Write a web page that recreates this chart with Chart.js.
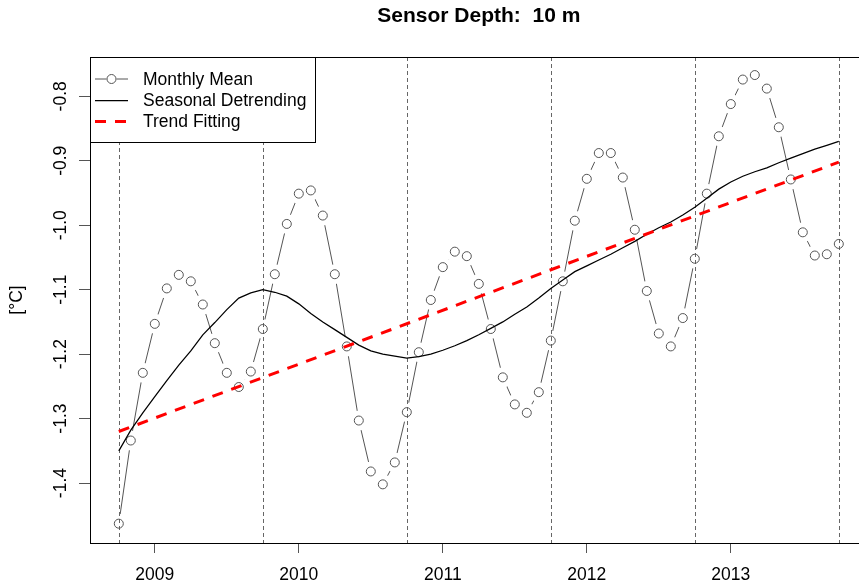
<!DOCTYPE html>
<html>
<head>
<meta charset="utf-8">
<script src="https://cdn.jsdelivr.net/npm/chart.js@4/dist/chart.umd.min.js"></script>
<style>
	html, body { margin: 0; padding: 0; background: #fff; overflow: hidden; }
	#wrap { width: 880px; height: 585px; }
</style>
</head>
<body>
<div id="wrap"><canvas id="chart" width="880" height="585"></canvas></div>
<script>
// Sensor at 10 m — monthly temperature, Oct 2008 .. Oct 2013
const startYear = 2008;
const startMonth = 10;
const monthlyMean = [
	-1.463, -1.334, -1.229,
	-1.153, -1.098, -1.077, -1.087, -1.123, -1.183, -1.229, -1.251, -1.227, -1.161, -1.076, -0.998,
	-0.951, -0.946, -0.985, -1.076, -1.188, -1.303, -1.382, -1.402, -1.368, -1.290, -1.197, -1.116,
	-1.065, -1.041, -1.048, -1.091, -1.161, -1.236, -1.278, -1.291, -1.259, -1.179, -1.087, -0.993,
	-0.928, -0.888, -0.888, -0.926, -1.007, -1.102, -1.168, -1.188, -1.144, -1.052, -0.951, -0.862,
	-0.812, -0.774, -0.767, -0.788, -0.848, -0.929, -1.011, -1.047, -1.045, -1.029
];
const seasonalDetrending = [
	-1.350, -1.318, -1.291,
	-1.266, -1.241, -1.217, -1.195, -1.170, -1.151, -1.131, -1.113, -1.105, -1.100, -1.104, -1.110,
	-1.122, -1.137, -1.150, -1.162, -1.174, -1.186, -1.195, -1.200, -1.203, -1.206, -1.204, -1.200,
	-1.194, -1.187, -1.179, -1.170, -1.160, -1.150, -1.138, -1.127, -1.113, -1.098, -1.085, -1.072,
	-1.063, -1.054, -1.045, -1.035, -1.025, -1.014, -1.004, -0.995, -0.984, -0.972, -0.958, -0.944,
	-0.933, -0.924, -0.917, -0.911, -0.903, -0.896, -0.889, -0.882, -0.876, -0.870
];
// linear trend, value at first and last month
const trendFitting = [-1.320, -0.902];
const yearTicks = [2009, 2010, 2011, 2012, 2013];
const tempTicks = [-1.4, -1.3, -1.2, -1.1, -1.0, -0.9, -0.8];
const octoberMarks = [2008.75, 2009.75, 2010.75, 2011.75, 2012.75, 2013.75];
const legendLabels = ['Monthly Mean', 'Seasonal Detrending', 'Trend Fitting'];

const FONT = '"Liberation Sans", Arial, Helvetica, sans-serif';
const monthX = i => startYear + (startMonth - 1 + i) / 12;
const meanPts = monthlyMean.map((v, i) => ({ x: monthX(i), y: v }));
const detrPts = seasonalDetrending.map((v, i) => ({ x: monthX(i), y: v }));
const trendPts = [
	{ x: monthX(0), y: trendFitting[0] },
	{ x: monthX(monthlyMean.length - 1), y: trendFitting[1] }
];

// R-style decorations: box, rotated y labels, title, legend, vertical marks
const rStyle = {
	id: 'rStyle',
	beforeDraw(chart) {
		const c = chart.ctx;
		c.save();
		c.fillStyle = '#fff';
		c.fillRect(0, 0, chart.width, chart.height);
		c.restore();
	},
	afterDatasetDraw(chart, args) {
		if (args.index !== 1) return;
		const { ctx: c, chartArea: a } = chart;
		const xs = chart.scales.x;
		c.save();
		c.strokeStyle = '#666';
		c.lineWidth = 1;
		c.setLineDash([4, 3]);
		octoberMarks.forEach(m => {
			const px = Math.round(xs.getPixelForValue(m)) + 0.5;
			c.beginPath();
			c.moveTo(px, a.top);
			c.lineTo(px, a.bottom);
			c.stroke();
		});
		c.restore();
	},
	afterDraw(chart) {
		const { ctx: c, chartArea: a } = chart;
		const ys = chart.scales.y;
		c.save();
		// plot box
		c.strokeStyle = '#000';
		c.lineWidth = 1;
		c.strokeRect(Math.round(a.left) + 0.5, Math.round(a.top) + 0.5, Math.round(a.right - a.left), Math.round(a.bottom - a.top));

		// y tick labels, rotated like R (las = 0)
		c.fillStyle = '#000';
		c.font = `17.5px ${FONT}`;
		c.textAlign = 'center';
		c.textBaseline = 'alphabetic';
		tempTicks.forEach(t => {
			c.save();
			c.translate(66, ys.getPixelForValue(t));
			c.rotate(-Math.PI / 2);
			c.fillText(t.toFixed(1), 0, 0);
			c.restore();
		});
		// y axis title
		c.save();
		c.translate(22, (a.top + a.bottom) / 2);
		c.rotate(-Math.PI / 2);
		c.fillText('[°C]', 0, 0);
		c.restore();

		// main title
		c.font = `bold 21px ${FONT}`;
		c.fillText('Sensor Depth:  10 m', (a.left + a.right) / 2, 22);

		// legend
		const lx = Math.round(a.left) + 0.5, ly = Math.round(a.top) + 0.5;
		c.fillStyle = '#fff';
		c.fillRect(lx, ly, 225, 85);
		c.strokeStyle = '#000';
		c.strokeRect(lx, ly, 225, 85);
		const rows = [79, 100.5, 121.5];
		c.font = `17.5px ${FONT}`;
		c.textAlign = 'left';
		c.textBaseline = 'middle';
		c.fillStyle = '#000';
		legendLabels.forEach((lab, i) => c.fillText(lab, 143, rows[i] + 1));
		// Monthly Mean symbol
		c.strokeStyle = '#555';
		c.lineWidth = 1;
		c.beginPath(); c.moveTo(95, rows[0]); c.lineTo(106.5, rows[0]); c.stroke();
		c.beginPath(); c.moveTo(116.5, rows[0]); c.lineTo(128, rows[0]); c.stroke();
		c.beginPath(); c.arc(111.5, rows[0], 4.5, 0, Math.PI * 2); c.stroke();
		// Seasonal Detrending symbol
		c.strokeStyle = '#000';
		c.lineWidth = 1.25;
		c.beginPath(); c.moveTo(95, rows[1]); c.lineTo(128, rows[1]); c.stroke();
		// Trend Fitting symbol
		c.strokeStyle = '#ff0000';
		c.lineWidth = 3;
		c.setLineDash([11, 9]);
		c.beginPath(); c.moveTo(95, rows[2]); c.lineTo(128, rows[2]); c.stroke();
		c.restore();
	}
};

new Chart(document.getElementById('chart'), {
	type: 'line',
	data: {
		datasets: [
			// connecting line of the monthly means
			{ data: meanPts, borderColor: '#555', borderWidth: 1, pointRadius: 0, order: 5 },
			// white gaps around the points (R type = "b")
			{ data: meanPts, showLine: false, pointRadius: 10, pointBorderWidth: 0, pointBackgroundColor: '#fff', pointBorderColor: '#fff', order: 4 },
			// open circles
			{ data: meanPts, showLine: false, pointRadius: 4.5, pointBorderWidth: 1, pointBorderColor: '#555', pointBackgroundColor: 'rgba(0,0,0,0)', order: 3 },
			{ data: detrPts, borderColor: '#000', borderWidth: 1.25, pointRadius: 0, order: 2 },
			{ data: trendPts, borderColor: '#ff0000', borderWidth: 3, borderDash: [11, 9], pointRadius: 0, order: 1 }
		]
	},
	options: {
		responsive: false,
		animation: false,
		events: [],
		layout: { padding: { left: 0, top: 57, right: 12.4, bottom: 0 } },
		plugins: { legend: { display: false }, tooltip: { enabled: false }, title: { display: false } },
		scales: {
			x: {
				type: 'linear',
				min: 2008.55,
				max: 2013.95,
				afterBuildTicks: s => { s.ticks = yearTicks.map(v => ({ value: v })); },
				afterFit: s => { s.height = 42; },
				border: { display: false },
				grid: { drawOnChartArea: false, drawTicks: true, tickLength: 10, color: '#555' },
				ticks: { callback: v => String(v), color: '#000', padding: 12, maxRotation: 0, font: { family: FONT, size: 17.5 } }
			},
			y: {
				type: 'linear',
				min: -1.493,
				max: -0.739,
				afterBuildTicks: s => { s.ticks = tempTicks.map(v => ({ value: v })); },
				afterFit: s => { s.width = 90; },
				border: { display: false },
				grid: { drawOnChartArea: false, drawTicks: true, tickLength: 11, color: '#555' },
				ticks: { display: false }
			}
		}
	},
	plugins: [rStyle]
});
</script>
</body>
</html>
